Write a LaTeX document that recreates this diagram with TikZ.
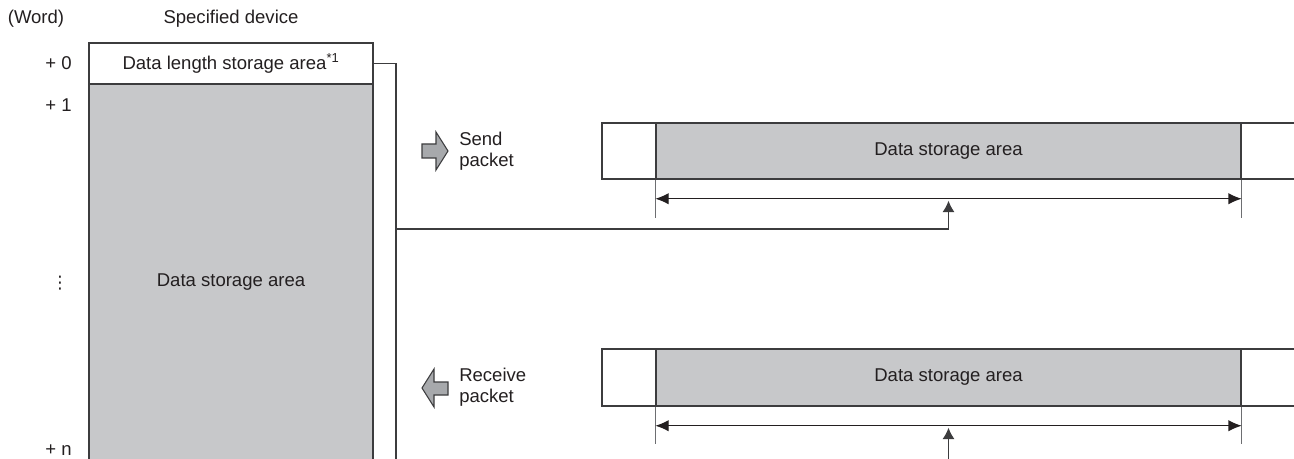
\documentclass[tikz,border=0pt]{standalone}
\usepackage{fontspec}
\setmainfont{Liberation Sans}
\newfontfamily\symfont{DejaVu Sans}
\usetikzlibrary{arrows.meta,calc}
\definecolor{ln}{HTML}{3C3C3E}
\definecolor{txt}{HTML}{231F20}
\definecolor{area}{HTML}{C7C8CA}
\definecolor{blk}{HTML}{A7A9AC}
\definecolor{extln}{HTML}{6D6E71}
\tikzset{
  frame/.style={draw=ln, line width=1.1pt},
  lbl/.style={text=txt, font=\fontsize{13.9}{15.75}\selectfont, inner sep=0pt},
  areabox/.style={frame, fill=area, text=txt, font=\fontsize{13.9}{15.75}\selectfont,
                  inner sep=0pt, minimum width=438.75pt},
  ext/.style={draw=extln, line width=0.8pt},
  dim/.style={draw=txt, line width=0.9pt, {Latex[length=10pt,width=8.5pt]}-{Latex[length=10pt,width=8.5pt]}},
  wire/.style={draw=ln, line width=0.9pt},
  feed/.style={wire, -{Latex[length=8.5pt,width=9pt]}},
  blockarrow/.style={draw=ln, fill=blk, line width=0.8pt, line join=miter},
}
\begin{document}
\begin{tikzpicture}[x=0.75pt,y=-0.75pt]
  \clip (0,0) rectangle (1294,459);

  % specified device
  \filldraw[frame, fill=area] (89,84) rectangle (373,470);
  \node[frame, fill=white, lbl, minimum width=213pt, minimum height=30.75pt] (len) at (231,63.5)
    {Data length storage area\textsuperscript{*1}};
  \node[lbl] (dev) at (231,282) {Data storage area};
  \node[lbl] (head) at (231,19) {Specified device};
  \node[lbl] (word) at (36,19) {(Word)};
  \node[lbl, anchor=east] (w0) at (72,63) {+ 0};
  \node[lbl, anchor=east] (w1) at (72,105) {+ 1};
  \node[lbl, font=\symfont\fontsize{13}{13}\selectfont] (wdots) at (60,283) {⋮};
  \node[lbl, anchor=east] (wn) at (72,450) {+ n};

  % send packet
  \draw[frame, fill=white] (602,123) rectangle (1310,179);
  \node[areabox, minimum height=42pt] (sarea) at (948.5,151) {Data storage area};
  \filldraw[blockarrow] (422,144) -- (436,144) -- (436,132) -- (448,151)
    -- (436,170) -- (436,158) -- (422,158) -- cycle;
  \node[lbl, anchor=west, align=left] (send) at (459,151) {Send\\packet};

  % receive packet
  \draw[frame, fill=white] (602,349) rectangle (1310,406);
  \node[areabox, minimum height=42.75pt] (rarea) at (948.5,377.5) {Data storage area};
  \filldraw[blockarrow] (422,388) -- (434,369) -- (434,382) -- (448,382)
    -- (448,395) -- (434,395) -- (434,407) -- cycle;
  \node[lbl, anchor=west, align=left] (recv) at (459,387) {Receive\\packet};

  % dimension lines
  \coordinate (sdl) at ($(sarea.south west)+(0,19)$);
  \coordinate (sdr) at ($(sarea.south east)+(0,19)$);
  \draw[ext] (sarea.south west) -- ++(0,38);
  \draw[ext] (sarea.south east) -- ++(0,38);
  \draw[dim] (sdl) -- (sdr);
  \coordinate (rdl) at ($(rarea.south west)+(0,19)$);
  \coordinate (rdr) at ($(rarea.south east)+(0,19)$);
  \draw[ext] (rarea.south west) -- ++(0,37);
  \draw[ext] (rarea.south east) -- ++(0,37);
  \draw[dim] (rdl) -- (rdr);

  % connectors
  \coordinate (bus) at (396,63.5);
  \draw[wire] (len.east) -- (bus) -- (bus |- 0,470);
  \draw[feed] (bus |- 0,229) -| ([yshift=-1.5pt]sarea.south |- sdl);
  \draw[feed] (rarea.south |- 0,470) -- ([yshift=-1.5pt]rarea.south |- rdl);
\end{tikzpicture}
\end{document}
